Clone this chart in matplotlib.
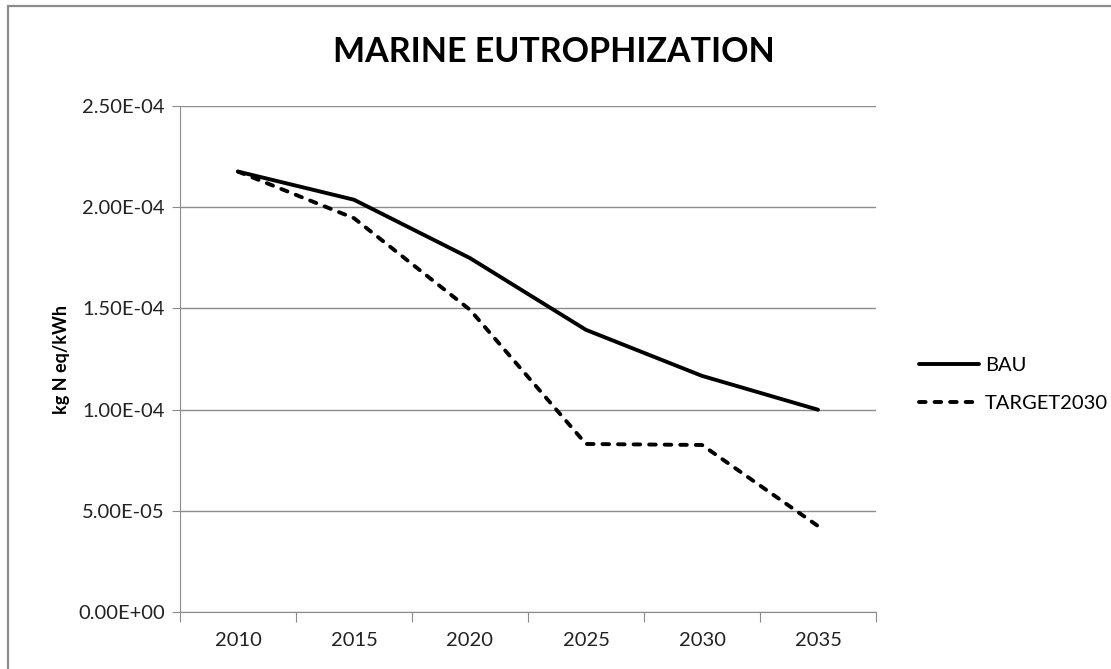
import numpy as np
import matplotlib.pyplot as plt
from matplotlib.patches import Rectangle
from matplotlib.ticker import FormatStrFormatter

years = ['2010', '2015', '2020', '2025', '2030', '2035']
bau = [2.175e-4, 2.036e-4, 1.748e-4, 1.394e-4, 1.167e-4, 1.000e-4]
target2030 = [2.175e-4, 1.945e-4, 1.493e-4, 8.31e-5, 8.26e-5, 4.26e-5]

plt.rcParams['font.family'] = ['Lato', 'DejaVu Sans']

fig = plt.figure(figsize=(11.11, 6.69), dpi=100)
ax = fig.add_axes([0.162, 0.0846, 0.6265, 0.7574])

x = np.arange(len(years))
ax.plot(x, bau, color='black', lw=2.8, solid_capstyle='round', label='BAU')
ax.plot(x, target2030, color='black', lw=2.8, dashes=(1.7, 2.3),
        dash_capstyle='round', label='TARGET2030')

# value axis
ax.set_ylim(0, 2.5e-4)
ax.set_yticks(np.arange(0, 2.51e-4, 5e-5))
ax.yaxis.set_major_formatter(FormatStrFormatter('%.2E'))
ax.grid(axis='y', color='#8c8c8c', lw=1)
ax.set_axisbelow(True)
ax.set_ylabel('kg N eq/kWh', fontsize=13, fontweight='bold', labelpad=6)

# category axis: ticks between categories, labels centred
ax.set_xlim(-0.5, len(years) - 0.5)
ax.set_xticks(np.arange(-0.5, len(years), 1.0))
ax.set_xticklabels([])
ax.set_xticks(x, minor=True)
ax.set_xticklabels(years, minor=True)
ax.tick_params(axis='x', which='major', length=7, color='#8c8c8c')
ax.tick_params(axis='x', which='minor', length=0, pad=14, labelsize=14.5, labelcolor='#222222')
ax.tick_params(axis='y', length=6, color='#8c8c8c', pad=5, labelsize=14.5, labelcolor='#222222')

for side in ('top', 'right'):
    ax.spines[side].set_visible(False)
for side in ('left', 'bottom'):
    ax.spines[side].set_color('#8c8c8c')

ax.legend(loc='center left', bbox_to_anchor=(1.035, 0.45), frameon=False,
          fontsize=14.5, handlelength=3.0, handletextpad=0.3, labelspacing=1.0)

fig.text(554 / 1111, 1 - 52 / 669, 'MARINE EUTROPHIZATION', ha='center', va='center',
         fontsize=24.5, fontweight='bold')

# outer chart frame
fig.patches.append(Rectangle((8 / 1111, -0.1), 1.2, 1.1 - 6 / 669, transform=fig.transFigure,
                             fill=False, edgecolor='#8c8c8c', lw=1.6))

fig.savefig('out.png', dpi=100)
